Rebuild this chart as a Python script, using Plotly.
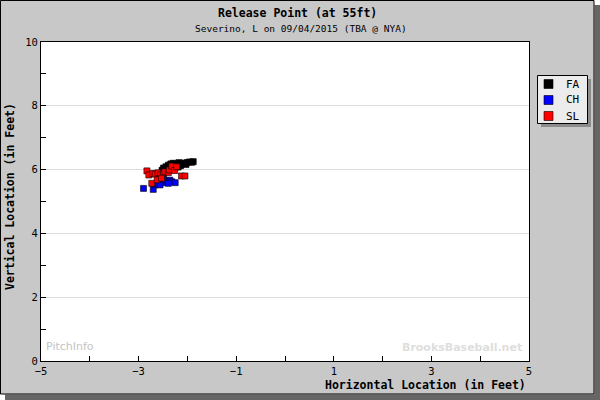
import plotly.graph_objects as go

# ---- data (feet) ----
fa_x = [-2.44, -2.39, -2.34, -2.29, -2.22, -2.17, -2.12, -2.07, -2.01, -1.96, -1.91, -1.88,
        -2.47, -2.42, -2.36, -2.31, -2.25, -2.14, -2.03, -2.52, -2.49, -2.28, -2.19]
fa_y = [6.09, 6.14, 6.18, 6.20, 6.17, 6.22, 6.18, 6.20, 6.22, 6.24, 6.23, 6.25,
        6.02, 6.06, 6.05, 6.12, 6.10, 6.12, 6.16, 5.98, 6.05, 6.03, 6.08]
ch_x = [-2.90, -2.70, -2.66, -2.60, -2.53, -2.46, -2.42, -2.36, -2.32, -2.25, -2.49, -2.56, -2.39]
ch_y = [5.41, 5.38, 5.52, 5.57, 5.62, 5.59, 5.65, 5.67, 5.62, 5.59, 5.69, 5.52, 5.57]
sl_x = [-2.83, -2.79, -2.71, -2.66, -2.60, -2.55, -2.49, -2.46, -2.39, -2.37, -2.32, -2.26,
        -2.22, -2.12, -2.05, -2.73, -2.62, -2.53]
sl_y = [5.96, 5.83, 5.88, 5.86, 5.90, 5.83, 5.88, 5.93, 5.91, 5.99, 6.11, 5.97,
        6.09, 5.80, 5.80, 5.57, 5.68, 5.73]

pitch_names = ["FA", "CH", "SL"]
pitch_colors = ["#000000", "#0000ff", "#ff0000"]

title_text = "Release Point (at 55ft)"
subtitle_text = "Severino, L on 09/04/2015 (TBA @ NYA)"
x_label = "Horizontal Location (in Feet)"
y_label = "Vertical Location (in Feet)"

MONO = "DejaVu Sans Mono"

# plot area in pixels
L, R, T, B = 41, 529, 42, 361
W, H = R - L, B - T


def px(x):
    return (x - L) / W


def py(y):
    return (B - y) / H


def rect(x0, y0, x1, y1, fill, line_w=0, line_c="#000000", layer="above"):
    return dict(type="rect", xref="paper", yref="paper", layer=layer,
                x0=px(x0), x1=px(x1), y0=py(y0), y1=py(y1),
                fillcolor=fill, line=dict(width=line_w, color=line_c))


fig = go.Figure()
series = [(fa_x, fa_y), (ch_x, ch_y), (sl_x, sl_y)]
for (xs, ys), name, col in zip(series, pitch_names, pitch_colors):
    fig.add_trace(go.Scatter(
        x=xs, y=ys, mode="markers", name=name, showlegend=False,
        marker=dict(symbol="square", size=6, color=col,
                    line=dict(width=0.6, color="#000000")),
    ))

shapes = [
    # white corners outside the card
    rect(594, 0, 600, 400, "#ffffff"),
    rect(0, 394, 600, 400, "#ffffff"),
    # drop shadow of the card
    rect(594.5, 5, 600, 400, "#666666"),
    rect(5, 394.5, 600, 400, "#666666"),
    # card border
    dict(type="rect", xref="paper", yref="paper", layer="above",
         x0=px(0.5), x1=px(594), y0=py(0.5), y1=py(394),
         fillcolor="rgba(0,0,0,0)", line=dict(width=1, color="#000000")),
    # legend shadow + box
    rect(541, 79, 591, 127, "#8c8c8c"),
    rect(537.5, 75.5, 587.5, 123.5, "#ececec", 1, "#000000"),
]

annotations = [
    dict(text="<b>" + title_text + "</b>", x=px(297), y=py(13), xref="paper", yref="paper",
         showarrow=False, xanchor="center", yanchor="middle",
         font=dict(family=MONO, size=11.5, color="#000000")),
    dict(text=subtitle_text, x=px(301), y=py(29), xref="paper", yref="paper",
         showarrow=False, xanchor="center", yanchor="middle",
         font=dict(family=MONO, size=9.5, color="#000000")),
    dict(text="<b>" + x_label + "</b>", x=px(528), y=py(385), xref="paper", yref="paper",
         showarrow=False, xanchor="right", yanchor="middle",
         font=dict(family=MONO, size=11.5, color="#000000")),
    dict(text="<b>" + y_label + "</b>", x=px(10), y=py(197), xref="paper", yref="paper",
         showarrow=False, xanchor="center", yanchor="middle", textangle=-90,
         font=dict(family=MONO, size=11.5, color="#000000")),
    dict(text="PitchInfo", x=px(44), y=py(346), xref="paper", yref="paper",
         showarrow=False, xanchor="left", yanchor="middle",
         font=dict(family="DejaVu Sans", size=11, color="#c4c4c4")),
    dict(text="<b>BrooksBaseball.net</b>", x=px(524), y=py(347), xref="paper", yref="paper",
         showarrow=False, xanchor="right", yanchor="middle",
         font=dict(family="DejaVu Sans", size=11, color="#dedede")),
]

# custom legend entries
leg_y = [84, 100, 116]
for name, col, yy in zip(pitch_names, pitch_colors, leg_y):
    shapes.append(rect(544, yy - 4.5, 553, yy + 4.5, col, 0.6, "#000000"))
    annotations.append(dict(text=name, x=px(564), y=py(yy), xref="paper", yref="paper",
                            showarrow=False, xanchor="left", yanchor="middle",
                            font=dict(family=MONO, size=11, color="#000000")))

fig.update_layout(
    width=600, height=400,
    margin=dict(l=L, r=600 - R, t=T, b=400 - B, pad=0, autoexpand=False),
    paper_bgcolor="#c8c8c8",
    plot_bgcolor="#ffffff",
    showlegend=False,
    shapes=shapes,
    annotations=annotations,
    font=dict(family=MONO, size=10.5, color="#000000"),
    xaxis=dict(
        range=[-5, 5], tick0=-5, dtick=2, ticks="inside", ticklen=5,
        tickcolor="#000000", showgrid=False, zeroline=False, automargin=False,
        showline=True, mirror=True, linecolor="#000000", linewidth=1,
        minor=dict(tick0=-5, dtick=1, ticks="inside", ticklen=5, tickcolor="#000000",
                   showgrid=False),
        fixedrange=True,
    ),
    yaxis=dict(
        range=[0, 10], tick0=0, dtick=2, ticks="inside", ticklen=5,
        tickcolor="#000000", showgrid=True, gridcolor="#dcdcdc", gridwidth=1,
        zeroline=False, automargin=False,
        showline=True, mirror=True, linecolor="#000000", linewidth=1,
        minor=dict(tick0=0, dtick=1, ticks="inside", ticklen=5, tickcolor="#000000",
                   showgrid=False),
        fixedrange=True,
    ),
)

fig.write_html(
    "out.html",
    config={"displayModeBar": False},
    post_script="document.body.style.margin='0';document.body.style.overflow='hidden';",
)
